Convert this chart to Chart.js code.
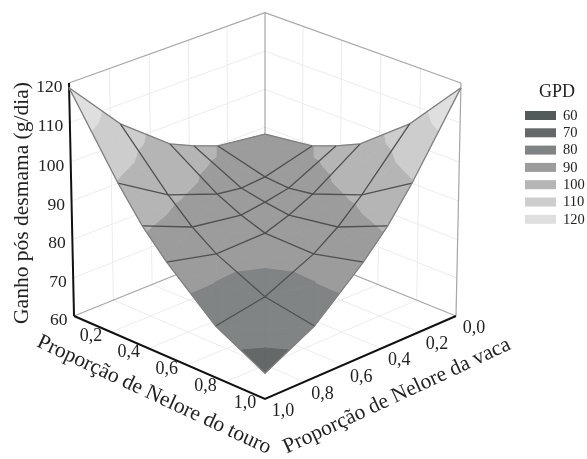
<!DOCTYPE html>
<html>
<head>
<meta charset="utf-8">
<title>GPD</title>
<script src="https://cdn.jsdelivr.net/npm/chart.js@4"></script>
<style>
  html, body { margin: 0; padding: 0; background: #fff; }
  canvas { display: block; }
</style>
</head>
<body>
<canvas id="grafico" width="587" height="459"></canvas>
<script>
// proporcoes da malha (iguais nos dois eixos)
const fracoes = [0, 0.25, 0.375, 0.5, 0.75, 1];

// ganho, uma lista por proporcao do touro, na ordem de fracoes para a vaca
const ganhoTouro000 = [88.2, 89.8, 92.2, 95.1, 105.0, 118.8];
const ganhoTouro025 = [89.8, 86.5, 86.0, 86.9, 91.6, 99.5];
const ganhoTouro037 = [92.2, 86.0, 84.8, 83.9, 85.8, 91.1];
const ganhoTouro050 = [95.1, 86.9, 83.9, 81.7, 81.4, 84.4];
const ganhoTouro075 = [105.0, 91.6, 85.8, 81.4, 75.5, 73.3];
const ganhoTouro100 = [118.8, 99.5, 91.1, 84.4, 73.3, 66.6];
const ganho = [ganhoTouro000, ganhoTouro025, ganhoTouro037, ganhoTouro050, ganhoTouro075, ganhoTouro100];

const ticksGanho = [60, 70, 80, 90, 100, 110, 120];
const ticksProporcao = [0.2, 0.4, 0.6, 0.8, 1.0];
const ticksVaca = [0.0, 0.2, 0.4, 0.6, 0.8, 1.0];
const legendaNiveis = [60, 70, 80, 90, 100, 110, 120];
const limitesFaixas = [60, 70, 79, 90, 100, 110, 120];
const legendaCores = ["#525a5a", "#646868", "#808484", "#9c9c9c", "#b5b5b5", "#cdcdcd", "#dfdfdf"];

const FONTE = '"Liberation Serif", serif';

// perspectiva simples: touro (u), vaca (v), ganho (z)
function projetar(u, v, z) {
  const p = u - v;
  const q = u + v - 1;
  const h = (z - 60) / 60;
  const w = 1 - 0.0375 * q - 0.0255 * h;
  return { x: 265 + 191 * p / w, y: 316 + (79.9 * q - 227 * h) / w };
}

function virgula(n) {
  return n.toFixed(1).replace(".", ",");
}

const datasets = [];

// o primeiro dataset fica por cima, entao cada novo entra no inicio
function linha(pontos, cor, largura) {
  datasets.unshift({
    data: pontos, showLine: true, fill: false, borderColor: cor,
    borderWidth: largura, pointRadius: 0, tension: 0
  });
}

function poligono(pontos, cor) {
  datasets.unshift({
    data: pontos.concat([pontos[0]]), showLine: true, fill: "shape", backgroundColor: cor,
    borderColor: cor, borderWidth: 0.8, pointRadius: 0, tension: 0
  });
}

// grade clara das paredes e do chao
const corGrade = "#ececec";
ticksGanho.slice(1, -1).forEach(z => {
  linha([projetar(0, 1, z), projetar(0, 0, z), projetar(1, 0, z)], corGrade, 1);
});
ticksProporcao.slice(0, -1).forEach(t => {
  linha([projetar(t, 0, 60), projetar(t, 0, 120)], corGrade, 1);
  linha([projetar(0, t, 60), projetar(0, t, 120)], corGrade, 1);
  linha([projetar(t, 0, 60), projetar(t, 1, 60)], corGrade, 1);
  linha([projetar(0, t, 60), projetar(1, t, 60)], corGrade, 1);
});

// caixa
const corCaixa = "#a6a6a6";
linha([projetar(0, 1, 120), projetar(0, 0, 120), projetar(1, 0, 120)], corCaixa, 1.2);
linha([projetar(0, 0, 60), projetar(0, 0, 120)], corCaixa, 1.2);
linha([projetar(1, 0, 60), projetar(1, 0, 120)], corCaixa, 1.2);
linha([projetar(0, 1, 60), projetar(0, 0, 60), projetar(1, 0, 60)], corCaixa, 1.2);
linha([projetar(0, 1, 60), projetar(0, 1, 120)], "#111", 2);
linha([projetar(0, 1, 60), projetar(1, 1, 60), projetar(1, 0, 60)], "#111", 2);

// recorta um poligono (u, v, z) na faixa de ganho [baixo, alto]
function recortar(vertices, limite, manterAcima) {
  const saida = [];
  vertices.forEach((a, i) => {
    const b = vertices[(i + 1) % vertices.length];
    const aDentro = manterAcima ? a.z >= limite : a.z <= limite;
    const bDentro = manterAcima ? b.z >= limite : b.z <= limite;
    if (aDentro) saida.push(a);
    if (aDentro !== bDentro) {
      const t = (limite - a.z) / (b.z - a.z);
      saida.push({ u: a.u + t * (b.u - a.u), v: a.v + t * (b.v - a.v), z: limite });
    }
  });
  return saida;
}

function pintarTriangulo(triangulo) {
  for (let n = 0; n < limitesFaixas.length - 1; n++) {
    let parte = recortar(triangulo, limitesFaixas[n], true);
    if (parte.length) parte = recortar(parte, limitesFaixas[n + 1], false);
    if (parte.length > 2) {
      poligono(parte.map(c => projetar(c.u, c.v, c.z)), legendaCores[n + 1]);
    }
  }
}

// superficie, de tras para a frente
const celulas = [];
for (let i = 0; i < 5; i++) {
  for (let j = 0; j < 5; j++) celulas.push([i, j]);
}
celulas.sort((a, b) => (fracoes[a[0]] + fracoes[a[1]]) - (fracoes[b[0]] + fracoes[b[1]]));
celulas.forEach(([i, j]) => {
  const cantos = [[i, j], [i + 1, j], [i + 1, j + 1], [i, j + 1]].map(([a, b]) => ({
    u: fracoes[a], v: fracoes[b], z: ganho[a][b]
  }));
  const centro = {
    u: (cantos[0].u + cantos[2].u) / 2,
    v: (cantos[0].v + cantos[2].v) / 2,
    z: cantos.reduce((s, c) => s + c.z, 0) / 4
  };
  cantos.forEach((c, k) => pintarTriangulo([c, cantos[(k + 1) % 4], centro]));
});

// malha
fracoes.forEach((f, i) => {
  const externa = i === 0 || i === fracoes.length - 1;
  const cor = externa ? "#808080" : "#505050";
  linha(fracoes.map((g, j) => projetar(f, g, ganho[i][j])), cor, 1.3);
  linha(fracoes.map((g, j) => projetar(g, f, ganho[j][i])), cor, 1.3);
});

const textos = {
  id: "textos",
  afterDatasetsDraw(chart) {
    const { ctx, scales } = chart;
    const px = ponto => ({ x: scales.x.getPixelForValue(ponto.x), y: scales.y.getPixelForValue(ponto.y) });
    const rotulo = (texto, x, y, angulo, tamanho, alinhar) => {
      ctx.save();
      ctx.translate(x, y);
      ctx.rotate(angulo * Math.PI / 180);
      ctx.font = tamanho + "px " + FONTE;
      ctx.textAlign = alinhar || "center";
      ctx.textBaseline = "middle";
      ctx.fillStyle = "#222";
      ctx.fillText(texto, 0, 0);
      ctx.restore();
    };

    ticksGanho.forEach(z => {
      const p = px(projetar(0, 1, z));
      rotulo(String(z), p.x - 6.5, p.y + 4, 0, 17.5, "right");
    });
    ticksProporcao.forEach(t => {
      const p = px(projetar(t, 1, 60));
      rotulo(virgula(t), p.x - 20, p.y + 4, 0, 18);
    });
    ticksVaca.forEach(t => {
      const p = px(projetar(1, t, 60));
      rotulo(virgula(t), p.x + 18, p.y + 12, 0, 18);
    });

    rotulo("Ganho pós desmama (g/dia)", 22, 203, -90, 21.5);
    rotulo("Proporção de Nelore do touro", 154, 395, 25, 21.5);
    rotulo("Proporção de Nelore da vaca", 397, 396, -25, 21.5);

    rotulo("GPD", 557, 92, 0, 18);
    legendaNiveis.forEach((nivel, i) => {
      const y = 115.5 + i * 17.3;
      ctx.fillStyle = legendaCores[i];
      ctx.fillRect(525, y - 4.5, 31, 9);
      rotulo(String(nivel), 563, y + 0.5, 0, 14.5, "left");
    });
  }
};

new Chart(document.getElementById("grafico"), {
  type: "scatter",
  data: { datasets: datasets },
  plugins: [textos],
  options: {
    responsive: false,
    animation: false,
    layout: { padding: 0 },
    plugins: { legend: { display: false }, tooltip: { enabled: false } },
    scales: {
      x: { type: "linear", min: 0, max: 587, display: false },
      y: { type: "linear", min: 0, max: 459, reverse: true, display: false }
    }
  }
});
</script>
</body>
</html>
